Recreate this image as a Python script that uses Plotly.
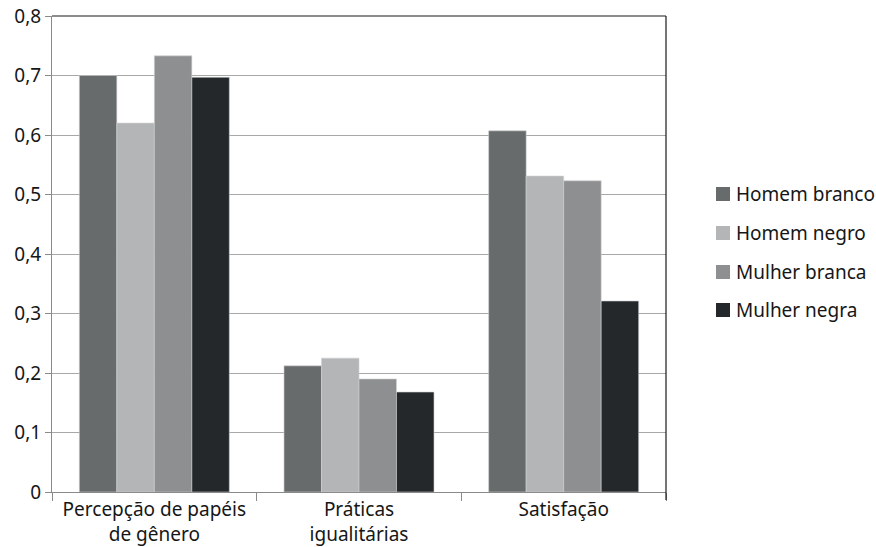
import plotly.graph_objects as go

categories = ["Percepção de papéis<br>de gênero", "Práticas<br>igualitárias", "Satisfação"]
series_names = ["Homem branco", "Homem negro", "Mulher branca", "Mulher negra"]
homem_branco = [0.700, 0.212, 0.607]
homem_negro = [0.620, 0.225, 0.531]
mulher_branca = [0.733, 0.190, 0.523]
mulher_negra = [0.697, 0.168, 0.321]
y_ticks = [0, 0.1, 0.2, 0.3, 0.4, 0.5, 0.6, 0.7, 0.8]
y_tick_labels = ["0", "0,1", "0,2", "0,3", "0,4", "0,5", "0,6", "0,7", "0,8"]

colors = ["#676b6c", "#b4b5b7", "#8e8f91", "#24282b"]
values = [homem_branco, homem_negro, mulher_branca, mulher_negra]

FONT = "Noto Sans"
TEXT = "#161616"
W, H = 876, 547
L, R, T, B = 52, 210, 16, 55

fig = go.Figure()
for i, (name, vals) in enumerate(zip(series_names, values)):
    fig.add_trace(go.Bar(
        x=categories, y=vals, name=name,
        marker=dict(color=colors[i], line=dict(color="#d0d1d2", width=0.6)),
        showlegend=False,
    ))

fig.update_layout(
    width=W, height=H,
    margin=dict(l=L, r=R, t=T, b=B),
    paper_bgcolor="white", plot_bgcolor="white",
    barmode="group", bargap=0.267, bargroupgap=0,
    font=dict(family=FONT, size=19, color=TEXT),
    xaxis=dict(
        type="category", automargin=False,
        showline=True, linecolor="#8a8a8a", linewidth=1.2,
        ticks="outside", tickson="boundaries", ticklen=8, tickcolor="#8a8a8a",
        tickfont=dict(family=FONT, size=19, color=TEXT),
        showgrid=False,
    ),
    yaxis=dict(
        range=[0, 0.8], automargin=False,
        tickvals=y_ticks, ticktext=y_tick_labels,
        showline=True, linecolor="#8a8a8a", linewidth=1.2,
        ticks="outside", ticklen=6, tickcolor="#8a8a8a",
        showgrid=True, gridcolor="#a8a8a8", gridwidth=1,
        zeroline=False,
        tickfont=dict(family=FONT, size=19, color=TEXT),
    ),
)

# dark frame on top and right of the plotting area
fig.add_shape(type="line", xref="paper", yref="paper", x0=0, x1=1, y0=1, y1=1,
              line=dict(color="#1a1a1a", width=1.2))
fig.add_shape(type="line", xref="paper", yref="paper", x0=1, x1=1, y0=-0.017, y1=1,
              line=dict(color="#1a1a1a", width=1.2))

# legend: colour swatches with labels to the right of the plot
pw = W - L - R
ph = H - T - B
def px_x(x):
    return (x - L) / pw
def px_y(y):
    return (H - B - y) / ph

legend_y = [194, 233, 272, 310]
for name, col, yc in zip(series_names, colors, legend_y):
    fig.add_shape(type="rect", xref="paper", yref="paper",
                  x0=px_x(716), x1=px_x(730), y0=px_y(yc + 7), y1=px_y(yc - 7),
                  fillcolor=col, line=dict(width=0))
    fig.add_annotation(xref="paper", yref="paper", x=px_x(734), y=px_y(yc),
                       xanchor="left", yanchor="middle", showarrow=False,
                       text=name, font=dict(family=FONT, size=19, color=TEXT))

fig.write_html("out.html")
